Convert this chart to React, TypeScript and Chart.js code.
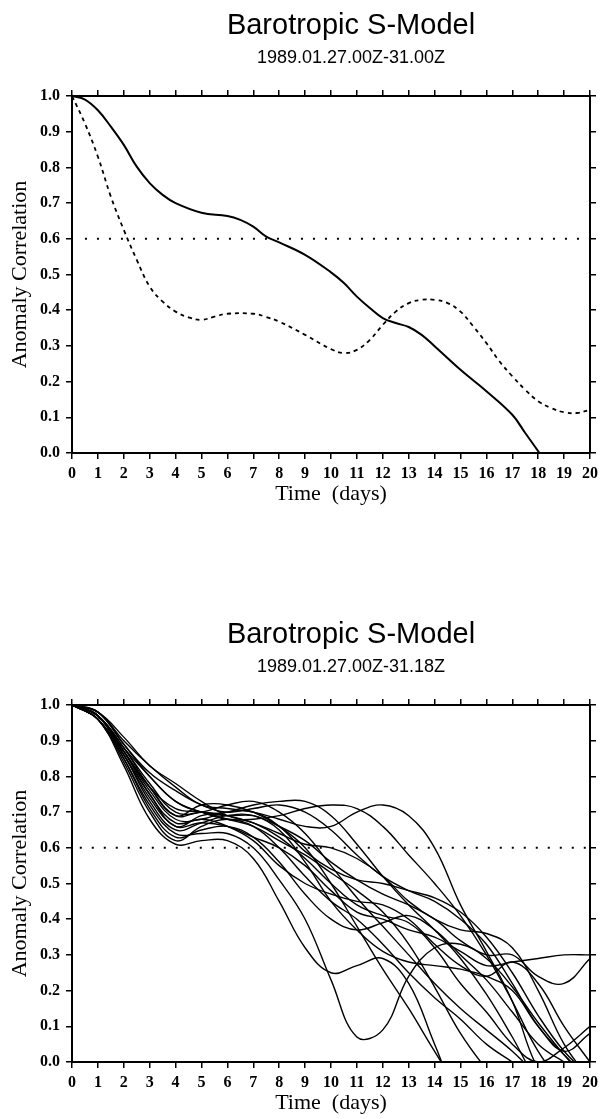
import React, { useEffect, useRef } from 'react';
import { Chart, registerables } from 'chart.js';

Chart.register(...registerables);

// ---------- texts ----------
const TITLE = 'Barotropic S-Model';
const SUBTITLE_TOP = '1989.01.27.00Z-31.00Z';
const SUBTITLE_BOTTOM = '1989.01.27.00Z-31.18Z';
const X_TITLE = 'Time  (days)';
const Y_TITLE = 'Anomaly Correlation';

const xTickLabels = ['0', '1', '2', '3', '4', '5', '6', '7', '8', '9', '10', '11', '12', '13', '14', '15', '16', '17', '18', '19', '20'];
const yTickLabels = ['0.0', '0.1', '0.2', '0.3', '0.4', '0.5', '0.6', '0.7', '0.8', '0.9', '1.0'];

// ---------- top chart data ----------
const solidDays = [0, 0.5, 1, 1.5, 2, 2.5, 3, 3.5, 4, 5, 6, 6.5, 7, 7.5, 8, 9, 10, 10.5, 11, 11.5, 12, 12.5, 13, 13.5, 14, 15, 16, 17, 17.5, 18.05];
const solidValues = [1, 0.99, 0.96, 0.914, 0.863, 0.802, 0.756, 0.723, 0.7, 0.673, 0.664, 0.653, 0.634, 0.606, 0.59, 0.555, 0.506, 0.476, 0.438, 0.406, 0.378, 0.364, 0.353, 0.331, 0.299, 0.233, 0.173, 0.107, 0.056, 0];

const dashedDays = [0, 0.5, 1, 1.5, 2, 2.5, 3, 3.5, 4, 4.5, 5, 5.5, 6, 7, 7.5, 8, 9, 10, 10.5, 11, 11.5, 12, 12.5, 13, 13.5, 14, 14.5, 15, 15.5, 16, 16.5, 17, 17.5, 18, 18.5, 19, 19.5, 20];
const dashedValues = [1, 0.923, 0.83, 0.718, 0.625, 0.541, 0.466, 0.424, 0.396, 0.38, 0.373, 0.382, 0.39, 0.39, 0.381, 0.368, 0.331, 0.291, 0.28, 0.289, 0.317, 0.359, 0.396, 0.42, 0.429, 0.429, 0.42, 0.396, 0.354, 0.308, 0.257, 0.215, 0.177, 0.145, 0.126, 0.114, 0.112, 0.121];

const topRefDays = [0.5, 20];
const topRefValues = [0.6, 0.6];

// ---------- bottom chart data (ensemble members, days 0..20) ----------
const ensembleDays = [0, 1, 2, 3, 4, 5, 6, 7, 8, 9, 10, 11, 12, 13, 14, 15, 16, 17, 18, 19, 20];
const member01 = [1, 0.97, 0.86, 0.74, 0.66, 0.67, 0.66, 0.63, 0.6, 0.55, 0.48, 0.42, 0.4, 0.37, 0.35, 0.31, 0.27, 0.28, 0.29, 0.3, 0.3];
const member02 = [1, 0.97, 0.88, 0.8, 0.73, 0.7, 0.69, 0.69, 0.66, 0.62, 0.56, 0.51, 0.47, 0.44, 0.4, 0.34, 0.3, 0.3, 0.24, 0.22, 0.29];
const member03 = [1, 0.96, 0.85, 0.72, 0.64, 0.64, 0.64, 0.6, 0.51, 0.4, 0.23, 0.07, 0.09, 0.24, 0.32, 0.33, 0.29, 0.21, 0.11, 0.02, -0.06];
const member04 = [1, 0.98, 0.9, 0.83, 0.77, 0.72, 0.71, 0.7, 0.68, 0.66, 0.66, 0.7, 0.72, 0.69, 0.6, 0.44, 0.31, 0.17, -0.02, -0.1, -0.2];
const member05 = [1, 0.97, 0.86, 0.75, 0.66, 0.69, 0.7, 0.72, 0.73, 0.73, 0.69, 0.61, 0.52, 0.44, 0.37, 0.29, 0.19, 0.07, -0.06, -0.15, -0.2];
const member06 = [1, 0.96, 0.85, 0.71, 0.63, 0.65, 0.66, 0.63, 0.56, 0.47, 0.4, 0.37, 0.39, 0.41, 0.37, 0.3, 0.23, 0.14, 0.05, 0.0, -0.04];
const member07 = [1, 0.96, 0.83, 0.68, 0.61, 0.62, 0.62, 0.57, 0.45, 0.32, 0.25, 0.27, 0.29, 0.22, 0.05, -0.12, -0.2, -0.2, -0.2, -0.2, -0.2];
const member08 = [1, 0.97, 0.87, 0.77, 0.71, 0.7, 0.68, 0.66, 0.62, 0.58, 0.53, 0.48, 0.42, 0.33, 0.21, 0.08, -0.02, -0.1, -0.15, -0.2, -0.2];
const member09 = [1, 0.98, 0.89, 0.81, 0.76, 0.72, 0.7, 0.71, 0.72, 0.7, 0.65, 0.58, 0.52, 0.48, 0.45, 0.4, 0.33, 0.22, 0.1, 0.02, -0.05];
const member10 = [1, 0.96, 0.84, 0.7, 0.62, 0.66, 0.68, 0.66, 0.6, 0.52, 0.45, 0.4, 0.33, 0.25, 0.18, 0.12, 0.05, 0.0, -0.05, -0.1, -0.1];
const member11 = [1, 0.97, 0.87, 0.77, 0.69, 0.7, 0.69, 0.67, 0.64, 0.61, 0.6, 0.57, 0.52, 0.45, 0.4, 0.37, 0.36, 0.32, 0.2, 0.05, -0.05];
const member12 = [1, 0.98, 0.91, 0.83, 0.78, 0.73, 0.69, 0.67, 0.63, 0.57, 0.5, 0.44, 0.41, 0.39, 0.32, 0.22, 0.14, 0.05, 0.0, 0.04, 0.1];
const member13 = [1, 0.97, 0.87, 0.76, 0.68, 0.68, 0.7, 0.7, 0.66, 0.59, 0.54, 0.51, 0.5, 0.48, 0.46, 0.42, 0.35, 0.25, 0.13, 0.03, -0.04];
const member14 = [1, 0.96, 0.86, 0.73, 0.65, 0.67, 0.69, 0.69, 0.65, 0.56, 0.45, 0.37, 0.31, 0.28, 0.27, 0.26, 0.24, 0.2, 0.1, 0.03, 0.08];
const member15 = [1, 0.97, 0.88, 0.78, 0.7, 0.7, 0.72, 0.73, 0.7, 0.64, 0.55, 0.46, 0.38, 0.3, 0.22, 0.15, 0.09, 0.03, -0.04, -0.1, -0.1];
const member16 = [1, 0.97, 0.87, 0.75, 0.67, 0.68, 0.66, 0.62, 0.55, 0.5, 0.47, 0.45, 0.44, 0.4, 0.33, 0.27, 0.24, 0.28, 0.22, 0.1, 0.0];
const member17 = [1, 0.98, 0.89, 0.8, 0.73, 0.7, 0.68, 0.68, 0.69, 0.71, 0.72, 0.71, 0.66, 0.58, 0.5, 0.41, 0.3, 0.17, 0.03, -0.06, -0.1];
const member18 = [1, 0.97, 0.88, 0.77, 0.69, 0.72, 0.72, 0.7, 0.66, 0.6, 0.5, 0.38, 0.26, 0.15, 0.03, -0.08, -0.15, -0.2, -0.2, -0.2, -0.2];
const ensembleMembers = [member01, member02, member03, member04, member05, member06, member07, member08, member09, member10, member11, member12, member13, member14, member15, member16, member17, member18];

const bottomRefDays = [0.3, 20];
const bottomRefValues = [0.6, 0.6];

// ---------- helpers ----------
const SERIF = '"Liberation Serif", "Times New Roman", Times, serif';
const SANS = '"Liberation Sans", Arial, Helvetica, sans-serif';

const toPoints = (xs: number[], ys: number[]) => xs.map((x, i) => ({ x, y: ys[i] }));

const titlesPlugin = {
  id: 'titles',
  afterDraw(chart: any, _args: any, opts: any) {
    const ctx = chart.ctx;
    ctx.save();
    ctx.fillStyle = '#000';
    ctx.textAlign = 'center';
    ctx.textBaseline = 'middle';
    ctx.font = `29px ${SANS}`;
    ctx.fillText(opts.title, opts.cx, opts.titleY);
    ctx.font = `18px ${SANS}`;
    ctx.fillText(opts.subtitle, opts.cx, opts.subtitleY);
    ctx.restore();
  },
};

const gridOpts = { drawOnChartArea: false, drawTicks: true, tickLength: 6, color: '#000', lineWidth: 1.5 };
const borderOpts = { display: true, color: '#000', width: 2 };
const tickFont = { family: SERIF, size: 16, weight: 'bold' as const };

function makeScales() {
  return {
    x: {
      type: 'linear',
      position: 'bottom',
      min: 0,
      max: 20,
      afterFit: (s: any) => { s.height = 57; },
      ticks: {
        stepSize: 1,
        autoSkip: false,
        maxRotation: 0,
        padding: 5,
        color: '#000',
        font: tickFont,
        callback: (v: any) => xTickLabels[Math.round(Number(v))] ?? '',
      },
      grid: gridOpts,
      border: borderOpts,
      title: { display: true, text: X_TITLE, color: '#000', font: { family: SERIF, size: 22 }, padding: { top: 0, bottom: 3 } },
    },
    x2: {
      type: 'linear',
      position: 'top',
      min: 0,
      max: 20,
      afterFit: (s: any) => { s.height = 96; },
      ticks: { display: false, stepSize: 1, autoSkip: false },
      grid: gridOpts,
      border: borderOpts,
    },
    y: {
      type: 'linear',
      position: 'left',
      min: 0,
      max: 1,
      afterFit: (s: any) => { s.width = 72; },
      ticks: {
        stepSize: 0.1,
        autoSkip: false,
        padding: 6,
        color: '#000',
        font: tickFont,
        callback: (v: any) => yTickLabels[Math.round(Number(v) * 10)] ?? '',
      },
      grid: gridOpts,
      border: borderOpts,
      title: { display: true, text: Y_TITLE, color: '#000', font: { family: SERIF, size: 22 }, padding: { top: 7, bottom: 0 } },
    },
    y2: {
      type: 'linear',
      position: 'right',
      min: 0,
      max: 1,
      afterFit: (s: any) => { s.width = 9; },
      ticks: { display: false, stepSize: 0.1, autoSkip: false },
      grid: gridOpts,
      border: borderOpts,
    },
  };
}

function makeConfig(datasets: any[], subtitle: string) {
  return {
    type: 'line',
    data: { datasets },
    options: {
      responsive: false,
      animation: false,
      events: [],
      layout: { padding: 0 },
      elements: { point: { radius: 0 } },
      plugins: {
        legend: { display: false },
        tooltip: { enabled: false },
        titles: { title: TITLE, subtitle, cx: 351, titleY: 26, subtitleY: 58 },
      },
      scales: makeScales(),
    },
    plugins: [titlesPlugin],
  } as any;
}

function lineDs(points: any[], opts: any) {
  return {
    data: points,
    xAxisID: 'x',
    yAxisID: 'y',
    borderColor: '#000',
    backgroundColor: '#000',
    fill: false,
    pointRadius: 0,
    tension: 0.4,
    ...opts,
  };
}

const W = 603;
const H = 510;

function ChartCanvas({ config }: { config: () => any }) {
  const ref = useRef<HTMLCanvasElement | null>(null);
  useEffect(() => {
    if (!ref.current) return;
    const chart = new Chart(ref.current, config());
    return () => chart.destroy();
  }, []);
  return <canvas ref={ref} width={W} height={H} style={{ display: 'block', width: W, height: H }} />;
}

const topConfig = () =>
  makeConfig(
    [
      lineDs(toPoints(solidDays, solidValues), { borderWidth: 2 }),
      lineDs(toPoints(dashedDays, dashedValues), { borderWidth: 1.8, borderDash: [4, 4] }),
      lineDs(toPoints(topRefDays, topRefValues), { borderWidth: 2, borderDash: [2, 10], tension: 0 }),
    ],
    SUBTITLE_TOP
  );

const bottomConfig = () =>
  makeConfig(
    [
      ...ensembleMembers.map((m) => lineDs(toPoints(ensembleDays, m), { borderWidth: 1.4 })),
      lineDs(toPoints(bottomRefDays, bottomRefValues), { borderWidth: 2, borderDash: [2, 10], tension: 0 }),
    ],
    SUBTITLE_BOTTOM
  );

export default function App() {
  return (
    <div style={{ position: 'absolute', left: 0, top: 0, width: W, height: 1119, overflow: 'hidden', background: '#fff' }}>
      <div style={{ position: 'absolute', left: 0, top: 0 }}>
        <ChartCanvas config={topConfig} />
      </div>
      <div style={{ position: 'absolute', left: 0, top: 609 }}>
        <ChartCanvas config={bottomConfig} />
      </div>
    </div>
  );
}
